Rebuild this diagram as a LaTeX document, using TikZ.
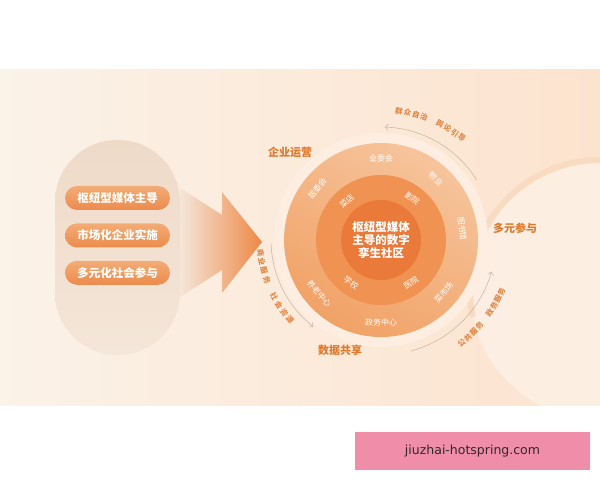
\documentclass[tikz,border=0pt]{standalone}
\usepackage{fontspec}
\setmainfont{Noto Sans CJK SC}
\newfontfamily\wmfont{DejaVu Sans}
\usepackage{tikz}
\usetikzlibrary{arrows.meta,positioning,calc}

\definecolor{bgleft}{HTML}{FBF2E8}
\definecolor{bgright}{HTML}{FCE3CE}
\definecolor{pilltop}{HTML}{EFDAC8}
\definecolor{pillbot}{HTML}{F4E6D9}
\definecolor{btntop}{HTML}{F3AC76}
\definecolor{btnbot}{HTML}{EC8B4C}
\definecolor{arrowor}{HTML}{EE8845}
\definecolor{halo}{HTML}{FDEEE1}
\definecolor{outtop}{HTML}{F6C49C}
\definecolor{outbot}{HTML}{F1A266}
\definecolor{midc}{HTML}{F09352}
\definecolor{innerc}{HTML}{EA7A3A}
\definecolor{tagorange}{HTML}{E07A2E}
\definecolor{arcorange}{HTML}{E28745}
\definecolor{arcgray}{HTML}{C6B2A2}
\definecolor{swoosh}{HTML}{F9DBC1}
\definecolor{swooshin}{HTML}{FDF1E6}
\definecolor{wmpink}{HTML}{F08DA9}
\definecolor{wmtext}{HTML}{2B2B2B}

% characters along an arc: radius, start angle, step, rotation offset, list
\newcommand{\arclabel}[5]{%
  \foreach \ch [count=\i from 0] in {#5}{%
    \pgfmathsetmacro{\ang}{#2+\i*#3}
    \node[arclbl, rotate=\ang+#4] at ($(ctr)+(\ang:#1)$) {\ch};
  }}

\begin{document}
\begin{tikzpicture}[
    x=1pt, y=1pt,
    panel/.style={
        rectangle,
        rounded corners=62pt,
        minimum width=125pt,
        minimum height=215pt,
        top color=pilltop,
        bottom color=pillbot
    },
    btn/.style={
        rectangle,
        rounded corners=12pt,
        minimum width=105pt,
        minimum height=24pt,
        inner sep=0pt,
        top color=btntop,
        bottom color=btnbot,
        text=white,
        font=\fontsize{11.5}{13}\selectfont\bfseries
    },
    ring/.style={
        circle,
        inner sep=0pt
    },
    ringlbl/.style={
        text=white,
        inner sep=0pt,
        font=\fontsize{8}{9}\selectfont
    },
    tag/.style={
        text=tagorange,
        font=\fontsize{11}{13}\selectfont\bfseries
    },
    arclbl/.style={
        text=arcorange,
        inner sep=0pt,
        font=\fontsize{7.5}{9}\selectfont\bfseries
    },
    line/.style={
        draw=arcgray,
        line width=0.5pt,
        -{Straight Barb[length=3pt]}
    }
]
\useasboundingbox (0,0) rectangle (600,480);

% Background
\fill[white] (0,0) rectangle (600,480);
\shade[left color=bgleft, right color=bgright] (0,75) rectangle (600,410);
\begin{scope}
    \clip (0,75) rectangle (600,410);
    \fill[swooshin, opacity=0.8] (600,190) circle[radius=130];
    \draw[swoosh, line width=6pt] ($(600,190)+(192:130)$) arc[start angle=192, end angle=90, radius=130];
\end{scope}

% Left panel
\node[panel] (pill) at (117.5,232.5) {};
\node[btn] (b1) at (117.5,282) {枢纽型媒体主导};
\node[btn, below=13pt of b1] (b2) {市场化企业实施};
\node[btn, below=13pt of b2] (b3) {多元化社会参与};

% Arrow
\shade[left color=pillbot, right color=arrowor]
    (180,292) -- (222,265) -- (222,288) -- (262,238) -- (222,187) -- (222,210) -- (180,183) -- cycle;

% Rings
\coordinate (ctr) at (381,240);
\fill[halo] (ctr) circle[radius=107];
\node[ring, minimum size=194pt, top color=outtop, bottom color=outbot, shading angle=-30] (outer) at (ctr) {};
\node[ring, minimum size=130pt, fill=midc] (middle) at (ctr) {};
\node[ring, minimum size=80pt, fill=innerc, text=white, align=center,
      font=\fontsize{11.5}{13}\selectfont\bfseries] (core) at (ctr) {枢纽型媒体\\主导的数字\\孪生社区};

\foreach \ang/\txt in {90/业委会, 141/居委会, 48/物业, 8/图书馆}
    \node[ringlbl, rotate=\ang-90] at ($(ctr)+(\ang:82)$) {\txt};
\foreach \ang/\txt in {-40/菜市场, -90/政务中心, -139/养老中心}
    \node[ringlbl, rotate=\ang+90] at ($(ctr)+(\ang:82)$) {\txt};
\foreach \ang/\txt in {131/菜店, 53/影院}
    \node[ringlbl, rotate=\ang-90] at ($(ctr)+(\ang:52)$) {\txt};
\foreach \ang/\txt in {-125/学校, -55/医院}
    \node[ringlbl, rotate=\ang+90] at ($(ctr)+(\ang:52)$) {\txt};

% Tags
\node[tag] (t1) at (290,328) {企业运营};
\node[tag] (t2) at (515,252) {多元参与};
\node[tag] (t3) at (340,130) {数据共享};

% Arcs
\coordinate (a1s) at ($(ctr)+(32:113)$);
\coordinate (a2s) at ($(ctr)+(-75:115)$);
\coordinate (a3s) at ($(ctr)+(182:110)$);
\path[line] (a1s) arc[start angle=32, end angle=88, radius=113];
\path[line] (a2s) arc[start angle=-75, end angle=-16, radius=115];
\path[line] (a3s) arc[start angle=182, end angle=232, radius=110];

\arclabel{130}{82}{-3.8}{-90}{群,众,自,治,{},舆,论,引,导}
\arclabel{131}{-52}{3.6}{90}{公,共,服,务,{},政,务,服,务}
\arclabel{121}{186}{4.4}{90}{商,业,服,务,{},社,会,资,源}

% Watermark
\node[fill=wmpink, minimum width=235pt, minimum height=38pt, text=wmtext,
      font=\wmfont\fontsize{12.5}{14}\selectfont] (wm) at (472.5,29) {jiuzhai-hotspring.com};

\end{tikzpicture}
\end{document}
